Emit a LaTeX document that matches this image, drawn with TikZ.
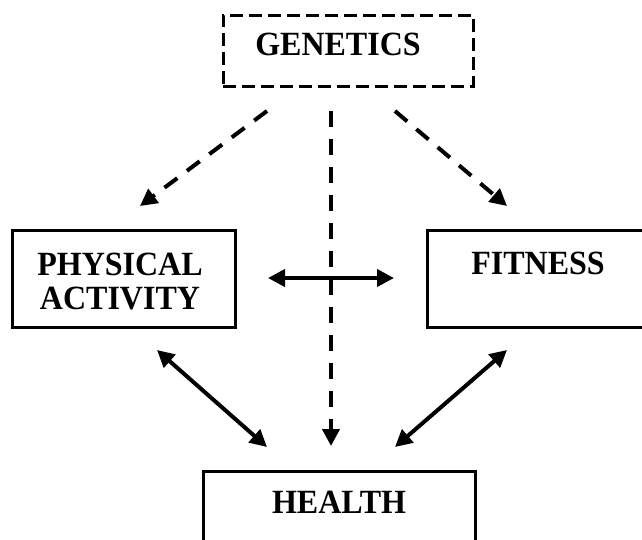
\documentclass[tikz,border=0pt]{standalone}
\usepackage{fontspec}
\setmainfont{Liberation Serif}
\usetikzlibrary{arrows.meta}
\begin{document}
\begin{tikzpicture}[x=1pt,y=-1pt,
  box/.style={draw,line width=3pt,rectangle,inner sep=0pt},
  dbox/.style={box,dash pattern=on 13pt off 6pt},
  lbl/.style={font=\fontsize{32}{34}\selectfont\bfseries,anchor=base,inner sep=0pt,yscale=1.06},
  link/.style={line width=4pt,{Triangle[length=17pt,width=17pt]}-{Triangle[length=17pt,width=17pt]}},
  cause/.style={line width=4pt,dash pattern=on 16pt off 12pt,-{Triangle[length=17pt,width=17pt]}}]
  \useasboundingbox (0,0) rectangle (642,539);
  \clip (0,0) rectangle (642,539);

  % boxes
  \node[dbox,minimum width=250pt,minimum height=71pt] (gen) at (348,50.5) {};
  \node[box,minimum width=223pt,minimum height=97pt] (pa) at (123.5,278.5) {};
  \node[box,minimum width=223pt,minimum height=97pt] (fit) at (538.5,278.5) {};
  \node[box,minimum width=272pt,minimum height=110pt] (hea) at (339,526) {};

  % labels
  \node[lbl] (tgen) at (338,55) {GENETICS};
  \node[lbl] (tpa1) at (120,275) {PHYSICAL};
  \node[lbl] (tpa2) at (120,309) {ACTIVITY};
  \node[lbl] (tfit) at (538,274) {FITNESS};
  \node[lbl] (thea) at (339,513) {HEALTH};

  % arrow end points
  \coordinate (g1) at (267,111);
  \coordinate (g2) at (331,111);
  \coordinate (g3) at (395,111);
  \coordinate (pa1) at (140,206);
  \coordinate (fi1) at (507,206);
  \coordinate (h2) at (331,446);
  \coordinate (paR) at (268,278);
  \coordinate (fiL) at (394,278);
  \coordinate (paB) at (157,350);
  \coordinate (h1) at (267,447);
  \coordinate (fiB) at (507,350);
  \coordinate (h3) at (395,447);

  % genetic influences
  \draw[cause] (g1) -- (pa1);
  \draw[cause] (g3) -- (fi1);
  \draw[cause] (g2) -- (h2);

  % mutual relations
  \draw[link] (paR) -- (fiL);
  \draw[link] (paB) -- (h1);
  \draw[link] (fiB) -- (h3);
\end{tikzpicture}
\end{document}
